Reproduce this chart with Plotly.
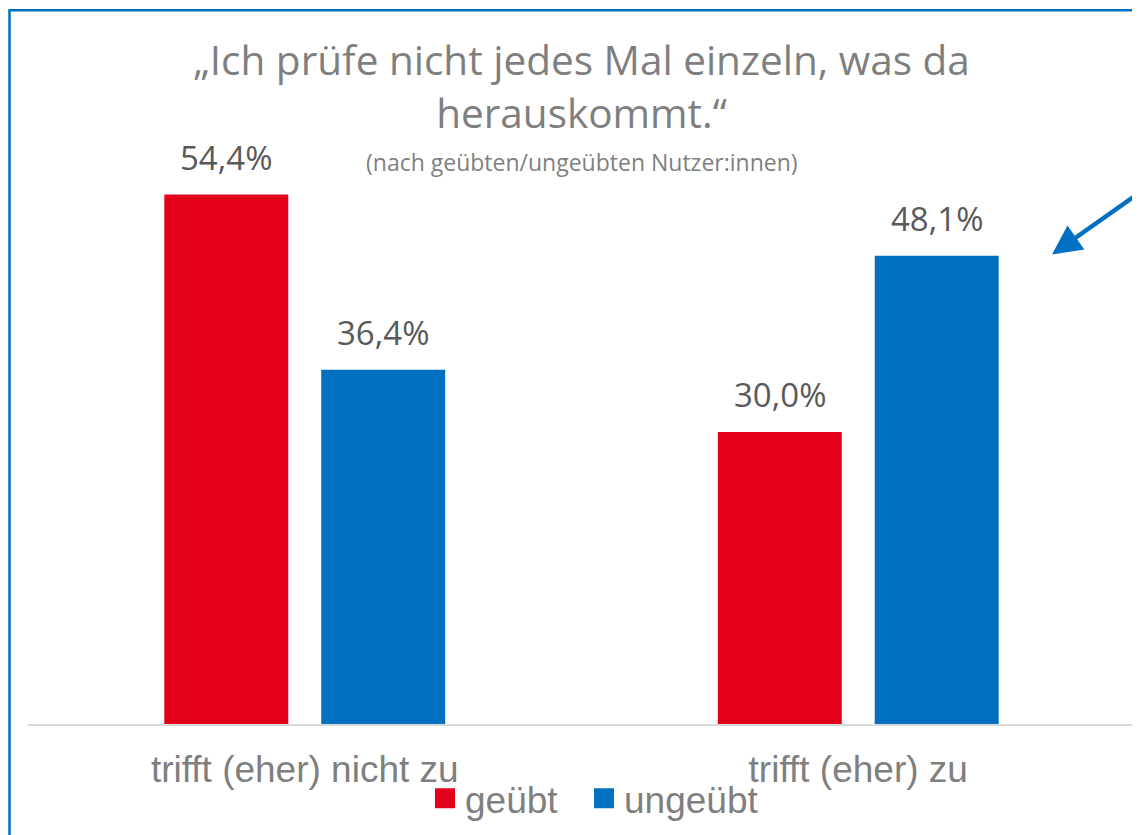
import plotly.graph_objects as go

# ---- data ----
categories = ["trifft (eher) nicht zu", "trifft (eher) zu"]
series_names = ["geübt", "ungeübt"]
geuebt = [54.4, 30.0]
ungeuebt = [36.4, 48.1]
series_values = [geuebt, ungeuebt]
colors = ["#e2001a", "#0070c0"]

title_line1 = "„Ich prüfe nicht jedes Mal einzeln, was da"
title_line2 = "herauskommt.“"
subtitle = "(nach geübten/ungeübten Nutzer:innen)"

# ---- layout constants (figure is drawn 8px in from the page edge) ----
OFF = 8
W, H = 1132, 827
ML, MR, MT, MB = 20, 5, 132, 108
PW, PH = W - ML - MR, H - MT - MB
YMAX = 60
BARGAP, BARGROUPGAP = 0.433, 0.21

def px_x(p):
    return (p - OFF - ML) / PW

def px_y(p):
    return (H - MB - (p - OFF)) / PH

fig = go.Figure()
for name, vals, col in zip(series_names, series_values, colors):
    fig.add_trace(go.Bar(x=categories, y=vals, name=name, marker_color=col,
                         marker_line_width=0, showlegend=False, hoverinfo="x+y"))
# legend entries (one legend box per series so the spacing can match)
legend_ids = ["legend", "legend2"]
for name, col, lg in zip(series_names, colors, legend_ids):
    fig.add_trace(go.Scatter(x=[None], y=[None], mode="markers", name=name, legend=lg,
                             marker=dict(symbol="square", size=20, color=col,
                                         line=dict(color=col, width=4))))

# data labels as annotations above the bars
cat_w = PW / len(categories)
slot = cat_w * (1 - BARGAP) / len(series_names)
annotations = []
for i, vals in enumerate(series_values):
    off = (i - (len(series_names) - 1) / 2) * slot
    for c, v in zip(categories, vals):
        annotations.append(dict(
            x=c, y=v, xref="x", yref="y", text=f"{v:.1f}%".replace(".", ","),
            showarrow=False, xshift=off, yshift=13, yanchor="bottom",
            font=dict(family="Open Sans", size=33, color="#595959")))

annotations.append(dict(
    x=0.5, y=px_y(162), xref="paper", yref="paper", text=subtitle, showarrow=False,
    yanchor="middle", font=dict(family="Open Sans", size=23, color="#7f7f7f")))

# arrow
annotations.append(dict(
    x=px_x(1052), y=px_y(255), xref="paper", yref="paper", text="",
    showarrow=True, ax=95, ay=-62, arrowcolor="#0070c0", arrowwidth=4.5,
    arrowhead=2, arrowsize=1.3, standoff=0))

shapes = [dict(type="rect", xref="paper", yref="paper",
               x0=px_x(9.5), x1=px_x(1160), y0=px_y(9.5), y1=px_y(880),
               line=dict(color="#0070c0", width=2.5), fillcolor="rgba(0,0,0,0)", layer="above")]

legend_font = dict(family="Liberation Sans, Arial", size=37, color="#7f7f7f")
legend_common = dict(orientation="h", xanchor="left", y=px_y(802), yanchor="middle",
                     font=legend_font, itemsizing="trace", bgcolor="rgba(0,0,0,0)")

fig.update_layout(
    width=W, height=H,
    margin=dict(l=ML, r=MR, t=MT, b=MB),
    paper_bgcolor="white", plot_bgcolor="white",
    barmode="group", bargap=BARGAP, bargroupgap=BARGROUPGAP,
    title=dict(text=title_line1 + "<br>" + title_line2, x=0.5, xref="paper", xanchor="center",
               y=1 - 67 / H, yref="container", yanchor="top",
               font=dict(family="Open Sans", size=40.5, color="#7f7f7f")),
    xaxis=dict(showline=True, linecolor="#d9d9d9", linewidth=2, showgrid=False,
               ticks="", ticklabelstandoff=12, range=[-0.5, 1.5],
               tickfont=dict(family="Liberation Sans, Arial", size=37, color="#7f7f7f")),
    yaxis=dict(visible=False, range=[0, YMAX]),
    legend=dict(x=px_x(425), **legend_common),
    legend2=dict(x=px_x(584), **legend_common),
    annotations=annotations, shapes=shapes,
)

fig.write_html("out.html")
